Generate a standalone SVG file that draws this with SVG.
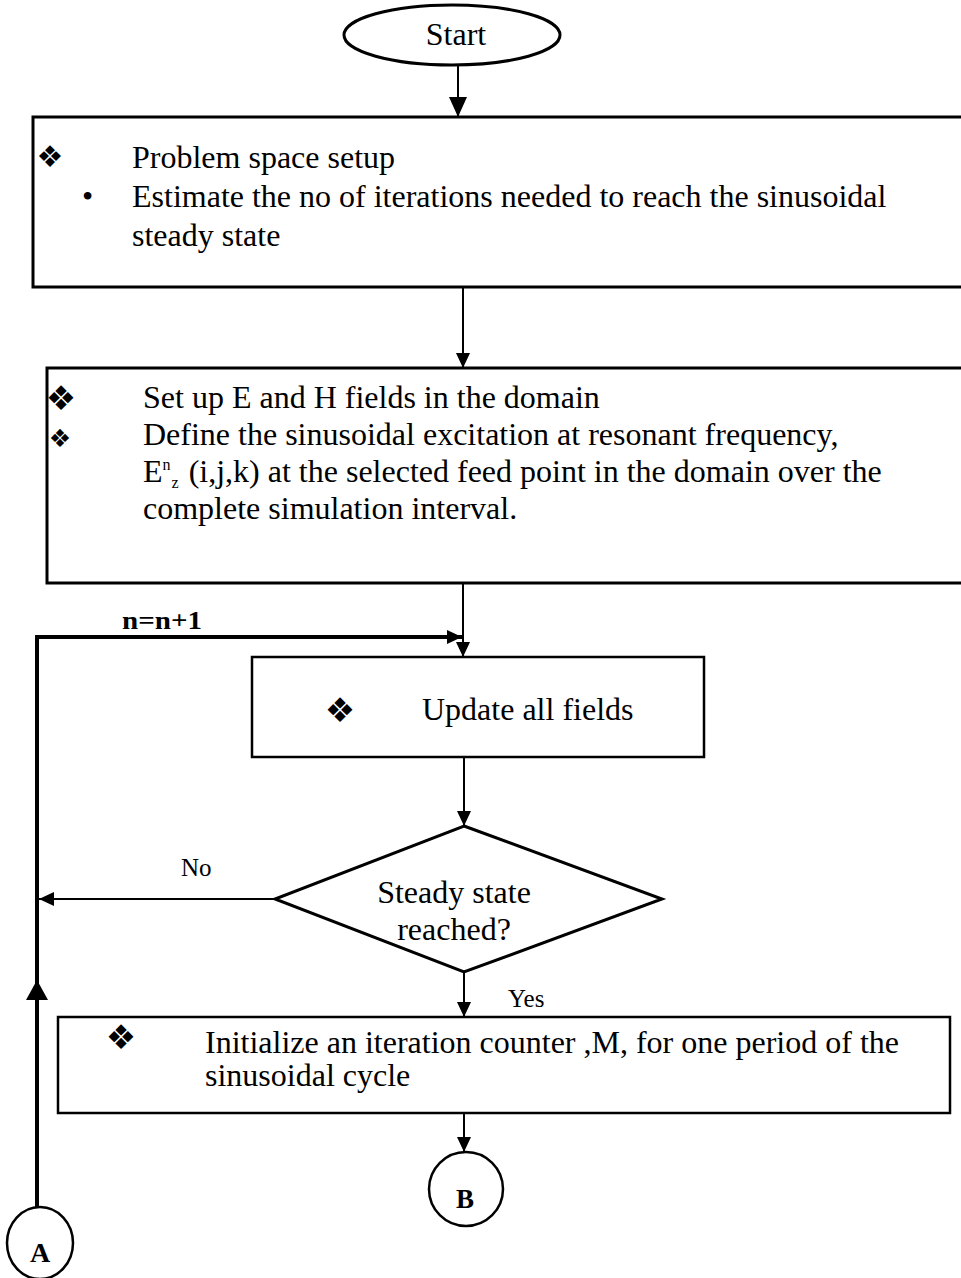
<svg xmlns="http://www.w3.org/2000/svg" width="961" height="1278" viewBox="0 0 961 1278">
  <style>
    .shape { fill: #fff; stroke: #000; stroke-width: 3; }
    .thin { fill: #fff; stroke: #000; stroke-width: 2.5; }
    .t { font-family: "Liberation Serif", "Times New Roman", serif; font-size: 32px; fill: #000; }
    .lbl { font-family: "Liberation Serif", "Times New Roman", serif; font-size: 25px; fill: #000; }
    .bold { font-family: "Liberation Serif", "Times New Roman", serif; font-weight: bold; fill: #000; }
    .dia { font-family: "DejaVu Sans", sans-serif; fill: #000; }
    .wire { fill: none; stroke: #000; stroke-width: 2; }
    .loop { fill: none; stroke: #000; stroke-width: 4; }
  </style>
  <defs>
    <marker id="headBig" markerUnits="userSpaceOnUse" markerWidth="20" markerHeight="18" refX="20" refY="9" orient="auto">
      <path d="M0,0 L20,9 L0,18 Z" fill="#000"/>
    </marker>
    <marker id="head" markerUnits="userSpaceOnUse" markerWidth="15" markerHeight="14" refX="15" refY="7" orient="auto">
      <path d="M0,0 L15,7 L0,14 Z" fill="#000"/>
    </marker>
    <marker id="headLoop" markerUnits="userSpaceOnUse" markerWidth="20" markerHeight="22" refX="20" refY="11" orient="auto">
      <path d="M0,0 L20,11 L0,22 Z" fill="#000"/>
    </marker>
  </defs>

  <rect width="961" height="1278" fill="#fff"/>

  <!-- connectors -->
  <g id="connectors">
    <line class="wire" x1="458" y1="65" x2="458" y2="117" marker-end="url(#headBig)"/>
    <line class="wire" x1="463" y1="287" x2="463" y2="368" marker-end="url(#head)"/>
    <line class="wire" x1="463" y1="583" x2="463" y2="657" marker-end="url(#head)"/>
    <line class="wire" x1="464" y1="757" x2="464" y2="826" marker-end="url(#head)"/>
    <line class="wire" x1="464" y1="972" x2="464" y2="1017" marker-end="url(#head)"/>
    <line class="wire" x1="464" y1="1113" x2="464" y2="1152" marker-end="url(#head)"/>
    <!-- "No" branch back to the loop line -->
    <line class="wire" x1="275" y1="899" x2="39" y2="899" marker-end="url(#head)"/>
    <!-- loop from connector A back to the update step -->
    <line class="loop" x1="37" y1="1207" x2="37" y2="980" marker-end="url(#headLoop)"/>
    <polyline class="loop" points="37,990 37,637 462,637" marker-end="url(#head)"/>
    <text class="bold" x="122" y="629" font-size="26" textLength="80" lengthAdjust="spacingAndGlyphs">n=n+1</text>
    <text class="lbl" x="181" y="876">No</text>
    <text class="lbl" x="508" y="1007" font-size="23">Yes</text>
  </g>

  <g id="start">
    <ellipse class="shape" cx="452" cy="35" rx="108" ry="30"/>
    <text class="t" x="456" y="45" font-size="30" text-anchor="middle">Start</text>
  </g>

  <g id="setup">
    <rect class="shape" x="33" y="117" width="935" height="170"/>
    <text class="dia" x="50" y="156" font-size="30" text-anchor="middle" dominant-baseline="central">❖</text>
    <text class="t" x="132" y="168">Problem space setup</text>
    <text class="t" x="82" y="207">•</text>
    <text class="t" x="132" y="207">Estimate the no of iterations needed to reach the sinusoidal</text>
    <text class="t" x="132" y="246">steady state</text>
  </g>

  <g id="fields">
    <rect class="shape" x="47" y="368" width="920" height="215"/>
    <text class="dia" x="61" y="398" font-size="34" text-anchor="middle" dominant-baseline="central">❖</text>
    <text class="dia" x="60" y="438" font-size="25" text-anchor="middle" dominant-baseline="central">❖</text>
    <text class="t" x="143" y="408">Set up E and H fields in the domain</text>
    <text class="t" x="143" y="445">Define the sinusoidal excitation at resonant frequency,</text>
    <text class="t" x="143" y="482">E<tspan dy="-12" font-size="16">n</tspan><tspan dx="1" dy="18" font-size="16">z</tspan><tspan dx="2" dy="-6"> (i,j,k) at the selected feed point in the domain over the</tspan></text>
    <text class="t" x="143" y="519">complete simulation interval.</text>
  </g>

  <g id="update">
    <rect class="thin" x="252" y="657" width="452" height="100"/>
    <text class="dia" x="340" y="710" font-size="34" text-anchor="middle" dominant-baseline="central">❖</text>
    <text class="t" x="422" y="720">Update all fields</text>
  </g>

  <g id="decision">
    <polygon class="shape" points="464,826 662,899 464,972 275,899"/>
    <text class="t" x="454" y="903" text-anchor="middle">Steady state</text>
    <text class="t" x="454" y="940" text-anchor="middle">reached?</text>
  </g>

  <g id="counter">
    <rect class="thin" x="58" y="1017" width="892" height="96"/>
    <text class="dia" x="121" y="1037" font-size="34" text-anchor="middle" dominant-baseline="central">❖</text>
    <text class="t" x="205" y="1053" font-size="33.5">Initialize an iteration counter ,M, for one period of the</text>
    <text class="t" x="205" y="1086" font-size="33.5">sinusoidal cycle</text>
  </g>

  <g id="connector-a">
    <ellipse class="thin" cx="40" cy="1243" rx="33" ry="36"/>
    <text class="bold" x="40" y="1262" font-size="28" text-anchor="middle">A</text>
  </g>

  <g id="connector-b">
    <ellipse class="thin" cx="466" cy="1189" rx="37" ry="37"/>
    <text class="bold" x="465" y="1208" font-size="27" text-anchor="middle">B</text>
  </g>
</svg>
